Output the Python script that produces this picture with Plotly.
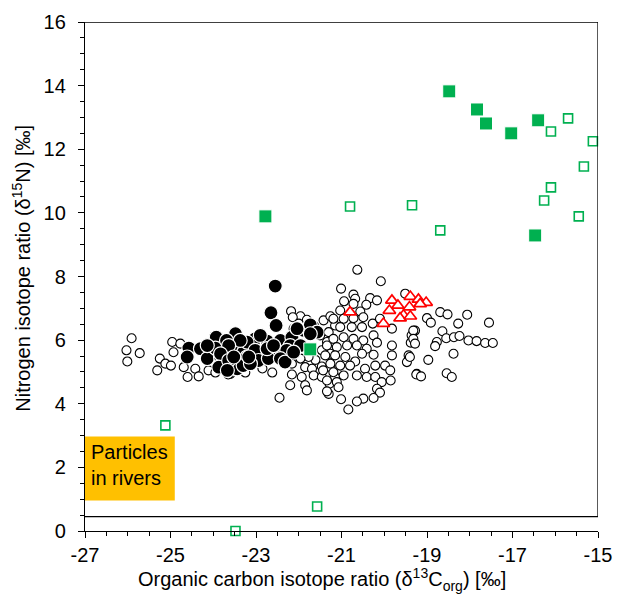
import plotly.graph_objects as go

# ---- data ----
open_x = [-25.91,-26.03,-25.72,-26.01,-24.96,-24.77,-24.93,-25.25,-25.12,-24.99,-25.31,-24.69,-24.42,-24.60,-24.34,-24.11,-23.60,-23.95,-23.65,-23.25,-22.85,-22.62,
          -22.18,-21.96,-22.14,-21.81,-22.00,-22.12,-21.42,-21.26,-21.15,-21.50,-21.34,-21.46,-21.26,-21.61,-21.77,-21.96,-22.16,-21.85,-21.69,-21.46,-21.26,-22.16,-21.93,-21.65,-21.46,-21.15,-22.20,-21.85,-21.81,-21.28,-22.45,-21.30,
          -20.63,-20.08,-21.01,-20.72,-20.68,-20.33,-20.17,-20.94,-20.72,-20.42,-21.03,-20.56,-19.51,-21.19,-20.95,-20.72,-20.49,-20.27,-20.10,-19.82,-20.52,-20.76,-21.03,-21.30,-21.19,-20.95,-20.72,-20.49,-20.25,-20.17,-19.36,-19.28,-19.38,-19.82,-21.34,-21.11,-20.87,-20.64,-20.41,-20.52,-20.25,-21.38,-21.15,-20.91,-20.68,-19.43,-19.47,-21.26,-21.03,-20.80,-20.45,-20.21,-19.98,-19.86,-21.43,-21.19,-20.95,-20.64,-20.41,-20.21,-21.34,-21.11,-20.06,-19.85,-19.24,-21.34,-21.07,-20.17,-20.10,-20.25,-20.49,-20.64,-21.01,-20.84,-19.82,
          -18.69,-18.52,-19.00,-18.91,-18.06,-18.27,-17.55,-19.32,-18.64,-19.32,-18.55,-18.37,-18.24,-18.03,-17.84,-17.64,-17.46,-19.28,-18.77,-18.81,-18.38,-18.97,-19.40,-19.25,-19.14,-18.54,-18.42]
open_y = [6.06,5.68,5.59,5.33,5.94,5.89,5.62,5.42,5.26,5.20,5.05,5.15,5.10,4.84,4.86,5.05,4.94,4.98,4.92,4.98,5.11,4.98,
          6.91,6.75,6.72,6.64,6.52,6.36,6.62,6.75,6.46,6.15,5.94,5.68,5.57,5.38,5.47,5.42,5.26,5.15,5.10,5.17,5.15,4.92,4.84,4.89,4.84,4.84,4.58,4.58,4.42,4.63,4.19,4.31,
          8.21,7.85,7.62,7.43,7.30,7.32,7.25,7.22,7.14,7.11,6.93,6.90,7.46,6.67,6.67,6.69,6.72,6.52,6.67,6.36,6.41,6.41,6.41,6.25,6.04,6.09,6.04,5.99,6.15,5.92,6.15,6.30,5.92,5.83,5.83,5.78,5.83,5.83,5.73,5.57,5.54,5.52,5.52,5.47,5.33,5.52,5.31,5.26,5.20,5.20,5.10,5.20,5.20,5.05,5.05,4.99,4.89,4.89,4.84,4.84,4.73,4.68,4.68,4.73,4.94,4.39,4.52,4.47,4.35,4.18,4.16,4.07,4.14,3.82,5.52,
          6.88,6.81,6.69,6.55,6.80,6.52,6.55,6.30,6.28,6.04,6.06,6.09,6.13,5.99,5.97,5.91,5.91,5.89,5.94,5.81,5.57,5.38,5.47,4.92,4.86,4.96,4.84]

black_x = [-24.57,-24.30,-24.61,-24.14,-23.93,-23.95,-23.48,-23.69,-23.48,-23.83,-23.72,-23.33,-23.44,-23.21,-23.29,-22.55,-22.65,-22.53,-23.02,-22.74,-23.21,-22.43,-22.16,-21.89,-21.61,-21.67,-22.20,-22.47,-23.02,-23.21,-22.94,-23.30,-21.96,-22.28,-21.73,-21.57,-22.04,-22.90,-23.37,-23.64,-23.83,-23.87,-23.64,-23.13,-23.67,-23.17,-22.71,-22.43,-22.32,-22.74,-22.59,-22.12,-21.73,-23.52,-24.14]
black_y = [5.75,5.73,5.47,5.42,6.09,5.75,6.20,5.99,5.73,5.47,5.20,5.42,5.10,5.89,5.62,7.70,6.86,6.46,6.04,5.97,5.94,5.99,6.09,6.31,6.27,6.43,5.83,5.57,5.68,5.47,5.36,5.20,5.83,5.68,6.48,6.25,6.36,6.15,5.99,5.83,5.57,5.15,5.36,5.26,5.05,5.47,5.42,5.42,5.31,5.73,5.83,5.62,6.20,5.47,5.83]

tri_x = [-19.82,-19.39,-19.20,-19.02,-19.68,-19.16,-19.88,-19.41,-19.55,-19.63,-19.39,-20.02,-20.80]
tri_y = [7.25,7.37,7.28,7.18,7.09,7.14,6.93,7.04,6.78,6.69,6.75,6.52,6.88]

gfill_x = [-18.48,-17.83,-17.62,-17.03,-16.40,-16.47,-22.78,-21.73]
gfill_y = [13.82,13.25,12.81,12.50,12.91,9.29,9.89,5.71]

gopen_x = [-15.70,-16.10,-15.12,-15.33,-16.10,-16.26,-15.45,-20.80,-19.35,-18.69,-25.12,-21.57,-23.48]
gopen_y = [12.97,12.56,12.25,11.46,10.80,10.39,9.89,10.20,10.24,9.45,3.32,0.77,0.0]

x_ticks = [-27, -25, -23, -21, -19, -17, -15]
y_ticks = [0, 2, 4, 6, 8, 10, 12, 14, 16]

GREEN = "#00B050"
FONT = "Liberation Sans, Arial, Helvetica, sans-serif"

fig = go.Figure()
fig.add_trace(go.Scatter(x=open_x, y=open_y, mode="markers",
                         marker=dict(symbol="circle", size=9, color="white",
                                     line=dict(color="black", width=1.1))))
fig.add_trace(go.Scatter(x=black_x, y=black_y, mode="markers",
                         marker=dict(symbol="circle", size=14, color="black",
                                     line=dict(color="white", width=1.2))))
fig.add_trace(go.Scatter(x=tri_x, y=tri_y, mode="markers",
                         marker=dict(symbol="triangle-up", size=11, color="white",
                                     line=dict(color="#FF0000", width=1.7))))
fig.add_trace(go.Scatter(x=gopen_x, y=gopen_y, mode="markers", cliponaxis=False,
                         marker=dict(symbol="square", size=9, color="white",
                                     line=dict(color=GREEN, width=1.6))))
fig.add_trace(go.Scatter(x=gfill_x, y=gfill_y, mode="markers",
                         marker=dict(symbol="square", size=13, color=GREEN,
                                     line=dict(color="white", width=1))))

shapes = [
    dict(type="line", xref="x", yref="y", x0=-27, x1=-15, y0=16, y1=16,
         line=dict(color="black", width=1.3)),
    dict(type="line", xref="x", yref="y", x0=-15, x1=-15, y0=0.45, y1=16,
         line=dict(color="black", width=1.3)),
    dict(type="line", xref="x", yref="y", x0=-27, x1=-15, y0=0.45, y1=0.45,
         line=dict(color="black", width=1.3)),
    dict(type="rect", xref="x", yref="y", x0=-27, x1=-24.9, y0=0.96, y1=2.97,
         fillcolor="#FFC000", line=dict(width=0), layer="below"),
]

annotations = [
    dict(x=-26.9, y=2.08, xref="x", yref="y", xanchor="left", yanchor="middle",
         align="left", showarrow=False, text="Particles<br>in rivers",
         font=dict(family=FONT, size=20, color="black")),
    dict(x=0.462, y=-0.096, xref="paper", yref="paper", xanchor="center", yanchor="middle",
         showarrow=False, text="Organic carbon isotope ratio (δ<sup>13</sup>C<sub>org</sub>) [‰]",
         font=dict(family=FONT, size=20, color="black")),
    dict(x=-0.123, y=0.517, xref="paper", yref="paper", xanchor="center", yanchor="middle",
         showarrow=False, textangle=-90, text="Nitrogen isotope ratio (δ<sup>15</sup>N) [‰]",
         font=dict(family=FONT, size=20, color="black")),
]

# page body has an 8px margin, so the figure is sized to fill the rest of the window
fig.update_layout(
    width=624, height=591,
    margin=dict(l=77, r=34, t=14, b=68),
    paper_bgcolor="white", plot_bgcolor="white",
    showlegend=False,
    shapes=shapes,
    annotations=annotations,
    font=dict(family=FONT, size=20, color="black"),
)
fig.update_xaxes(range=[-27, -15], tickvals=x_ticks, ticktext=[str(v) for v in x_ticks],
                 showgrid=False, zeroline=False, showline=True, linecolor="black", linewidth=1.3,
                 ticks="outside", ticklen=6, tickcolor="black", tickwidth=1.2,
                 minor=dict(dtick=0.5, tick0=-27, ticks="outside", ticklen=4, tickcolor="black", tickwidth=1.2, showgrid=False),
                 tickfont=dict(size=20), automargin=False)
fig.update_yaxes(range=[0, 16], tickvals=y_ticks, ticktext=[str(v) for v in y_ticks],
                 showgrid=False, zeroline=False, showline=True, linecolor="black", linewidth=1.3,
                 ticks="outside", ticklen=6, tickcolor="black", tickwidth=1.2,
                 minor=dict(dtick=0.5, tick0=0, ticks="outside", ticklen=4, tickcolor="black", tickwidth=1.2, showgrid=False),
                 tickfont=dict(size=20), ticklabelstandoff=8, automargin=False)

fig.write_html("out.html")
